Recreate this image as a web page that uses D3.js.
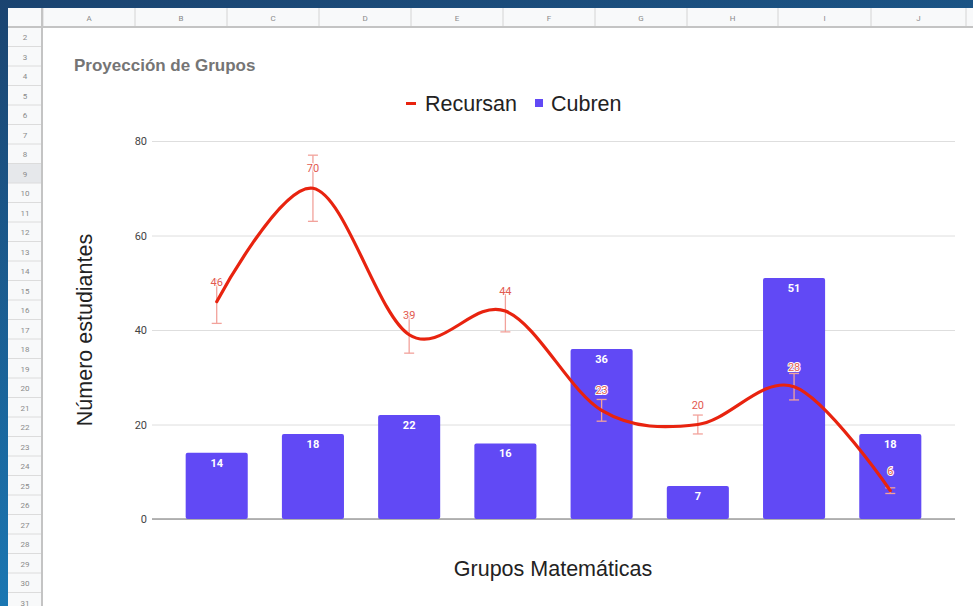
<!DOCTYPE html>
<html>
<head>
	<meta charset="utf-8">
	<title>Proyección de Grupos</title>
	<style>
		body { margin: 0; background: #fff; }
		svg { display: block; }
	</style>
</head>
<body>
	<svg id="canvas" width="973" height="606"></svg>
	<script src="https://cdn.jsdelivr.net/npm/d3@7"></script>
	<script>
		// data
		let grupos = ["G1", "G2", "G3", "G4", "G5", "G6", "G7", "G8"];
		let cubren = [14, 18, 22, 16, 36, 7, 51, 18];
		let recursan = [46, 70, 39, 44, 23, 20, 28, 6];
		let yTicks = [0, 20, 40, 60, 80];
		let colLetters = ["A", "B", "C", "D", "E", "F", "G", "H", "I", "J"];
		let rowNumbers = d3.range(2, 32);

		let svg = d3.select("#canvas");
		let W = 973, H = 606;

		// --- spreadsheet frame behind the chart ---
		let defs = svg.append("defs");
		let grad = defs.append("linearGradient").attr("id", "frame")
			.attr("x1", 0).attr("y1", 0).attr("x2", 0.3).attr("y2", 1);
		grad.append("stop").attr("offset", "0%").attr("stop-color", "#1b4470");
		grad.append("stop").attr("offset", "100%").attr("stop-color", "#1a7bb8");
		svg.append("rect").attr("width", W).attr("height", H).attr("fill", "url(#frame)");
		svg.append("rect").attr("x", 8).attr("y", 8).attr("width", W - 8).attr("height", H - 8).attr("fill", "#fff");

		// column header
		let colEdges = [43, 135, 227, 319, 411, 503, 595, 687, 778, 871, 966];
		svg.append("rect").attr("x", 8).attr("y", 8).attr("width", W - 8).attr("height", 19).attr("fill", "#f8f9fa");
		svg.selectAll(".colsep").data(colEdges).enter().append("line")
			.attr("x1", d => d).attr("x2", d => d).attr("y1", 8).attr("y2", 27)
			.attr("stroke", "#d4d4d4");
		svg.selectAll(".collab").data(colLetters).enter().append("text")
			.attr("x", (d, i) => (colEdges[i] + colEdges[i + 1]) / 2)
			.attr("y", 20.5)
			.attr("text-anchor", "middle")
			.attr("font-family", "Roboto, sans-serif").attr("font-size", 8)
			.attr("fill", "#8a8a8a")
			.text(d => d);

		// row header
		let rowY = d3.scaleLinear().domain([2, 3]).range([27, 46.5]);
		svg.append("rect").attr("x", 8).attr("y", 27).attr("width", 34).attr("height", H - 27).attr("fill", "#f8f9fa");
		svg.append("rect").attr("x", 8).attr("y", rowY(9)).attr("width", 34).attr("height", 19.5).attr("fill", "#e6e8eb");
		svg.selectAll(".rowsep").data(rowNumbers).enter().append("line")
			.attr("x1", 8).attr("x2", 42).attr("y1", d => rowY(d + 1)).attr("y2", d => rowY(d + 1))
			.attr("stroke", "#dcdcdc");
		svg.selectAll(".rowlab").data(rowNumbers).enter().append("text")
			.attr("x", 25).attr("y", d => rowY(d) + 13)
			.attr("text-anchor", "middle")
			.attr("font-family", "Roboto, sans-serif").attr("font-size", 8)
			.attr("fill", "#8a8a8a")
			.text(d => d);
		svg.append("line").attr("x1", 42).attr("x2", 42).attr("y1", 8).attr("y2", H)
			.attr("stroke", "#c4c4c4").attr("stroke-width", 2);
		svg.append("line").attr("x1", 8).attr("x2", W).attr("y1", 27).attr("y2", 27)
			.attr("stroke", "#c4c4c4").attr("stroke-width", 2);

		// --- chart ---
		let x = d3.scaleBand().domain(grupos).range([152, 955])
			.paddingInner(0.355).paddingOuter(0.35);
		let y = d3.scaleLinear().domain([0, 80]).range([519, 141]);

		svg.append("text").attr("x", 74).attr("y", 71)
			.attr("font-family", "'Liberation Sans', Arial, sans-serif")
			.attr("font-size", 17).attr("font-weight", "bold")
			.attr("fill", "#757575")
			.text("Proyección de Grupos");

		// gridlines + y labels
		let yAxis = svg.append("g").attr("transform", "translate(152,0)")
			.call(d3.axisLeft(y).tickValues(yTicks).tickSize(-803).tickPadding(5));
		yAxis.select(".domain").remove();
		yAxis.selectAll(".tick line").attr("stroke", "#dedede");
		yAxis.selectAll(".tick text")
			.attr("font-family", "Roboto, sans-serif").attr("font-size", 11).attr("fill", "#444");
		svg.append("line").attr("x1", 152).attr("x2", 955).attr("y1", y(0)).attr("y2", y(0))
			.attr("stroke", "#9e9e9e").attr("stroke-width", 1.5);

		// bars
		svg.selectAll(".bar").data(cubren).enter().append("rect")
			.attr("x", (d, i) => x(grupos[i]))
			.attr("y", d => y(d))
			.attr("width", x.bandwidth())
			.attr("height", d => y(0) - y(d))
			.attr("rx", 2)
			.attr("fill", "#6149f5");
		svg.selectAll(".barlab").data(cubren).enter().append("text")
			.attr("x", (d, i) => x(grupos[i]) + x.bandwidth() / 2)
			.attr("y", d => y(d) + 14)
			.attr("text-anchor", "middle")
			.attr("font-family", "Roboto, sans-serif").attr("font-size", 11).attr("font-weight", "bold")
			.attr("fill", "#fff")
			.text(d => d);

		// error bars, 10 percent
		let cx = i => x(grupos[i]) + x.bandwidth() / 2;
		let err = svg.append("g").attr("stroke", "#f2a29b").attr("stroke-width", 1.3);
		recursan.forEach((v, i) => {
			let lo = y(v * 0.9), hi = y(v * 1.1);
			err.append("line").attr("x1", cx(i)).attr("x2", cx(i)).attr("y1", lo).attr("y2", hi);
			err.append("line").attr("x1", cx(i) - 5).attr("x2", cx(i) + 5).attr("y1", lo).attr("y2", lo);
			err.append("line").attr("x1", cx(i) - 5).attr("x2", cx(i) + 5).attr("y1", hi).attr("y2", hi);
		});

		// smoothed line
		let line = d3.line()
			.x((d, i) => cx(i))
			.y(d => y(d))
			.curve(d3.curveCardinal.tension(0));
		svg.append("path").datum(recursan)
			.attr("d", line)
			.attr("fill", "none")
			.attr("stroke", "#e8230f")
			.attr("stroke-width", 3.2)
			.attr("stroke-linecap", "round");

		svg.selectAll(".linelab").data(recursan).enter().append("text")
			.attr("x", (d, i) => cx(i))
			.attr("y", d => y(d) - 16)
			.attr("text-anchor", "middle")
			.attr("font-family", "Roboto, sans-serif").attr("font-size", 11)
			.attr("fill", "#e25a50")
			.attr("stroke", "#fff").attr("stroke-width", 2)
			.attr("paint-order", "stroke")
			.text(d => d);

		// legend
		let legend = svg.append("g")
			.attr("font-family", "'Liberation Sans', Arial, sans-serif")
			.attr("font-size", 21.5).attr("fill", "#222");
		legend.append("rect").attr("x", 406).attr("y", 102).attr("width", 10).attr("height", 3).attr("fill", "#e8230f");
		legend.append("text").attr("x", 425).attr("y", 111).text("Recursan");
		legend.append("rect").attr("x", 535).attr("y", 99).attr("width", 8).attr("height", 8).attr("fill", "#6149f5");
		legend.append("text").attr("x", 551).attr("y", 111).text("Cubren");

		// axis titles
		svg.append("text")
			.attr("transform", "translate(92,330) rotate(-90)")
			.attr("text-anchor", "middle")
			.attr("font-family", "'Liberation Sans', Arial, sans-serif")
			.attr("font-size", 21.5).attr("fill", "#222")
			.text("Número estudiantes");
		svg.append("text")
			.attr("x", 553).attr("y", 576)
			.attr("text-anchor", "middle")
			.attr("font-family", "'Liberation Sans', Arial, sans-serif")
			.attr("font-size", 21.5).attr("fill", "#222")
			.text("Grupos Matemáticas");
	</script>
</body>
</html>
